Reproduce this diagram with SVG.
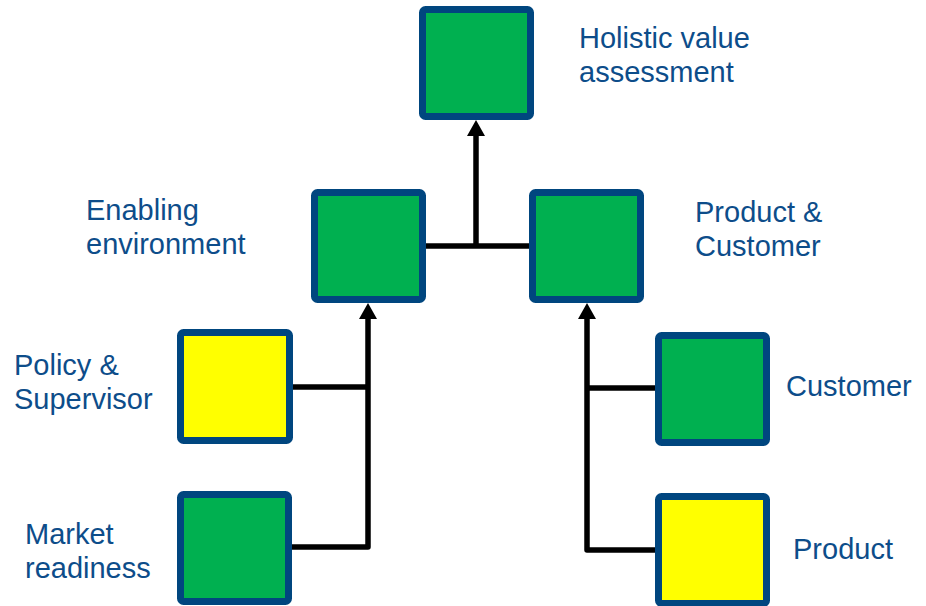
<svg xmlns="http://www.w3.org/2000/svg" width="926" height="606" viewBox="0 0 926 606">
  <defs>
    <style>
      .box { stroke: #00467F; stroke-width: 7; }
      .green { fill: #00B050; }
      .yellow { fill: #FFFF00; }
      .lbl { font-family: "Liberation Sans", Arial, sans-serif; font-size: 29px; fill: #0D4D8A; }
      .wire { fill: none; stroke: #000000; stroke-width: 5.5; stroke-linejoin: round; }
    </style>
    <marker id="arrow" viewBox="0 0 16 18" refX="0" refY="9" markerWidth="16" markerHeight="18" markerUnits="userSpaceOnUse" orient="auto">
      <path d="M0,0 L16,9 L0,18 Z" fill="#000000"/>
    </marker>
  </defs>
  <rect width="926" height="606" fill="#FFFFFF"/>

  <!-- connectors -->
  <g id="connectors">
    <path class="wire" d="M426,246 L529,246"/>
    <path class="wire" d="M476,246 L476,136" marker-end="url(#arrow)"/>
    <path class="wire" d="M292,547 L368,547 L368,319" marker-end="url(#arrow)"/>
    <path class="wire" d="M293,387 L368,387"/>
    <path class="wire" d="M655,550 L587,550 L587,319" marker-end="url(#arrow)"/>
    <path class="wire" d="M655,388 L587,388"/>
  </g>

  <!-- nodes -->
  <g id="holistic">
    <rect class="box green" x="422.5" y="9.5" width="108" height="107" rx="3"/>
    <text class="lbl" x="579" y="48">Holistic value</text>
    <text class="lbl" x="579" y="82">assessment</text>
  </g>
  <g id="enabling">
    <rect class="box green" x="314.5" y="192.5" width="108" height="107" rx="3"/>
    <text class="lbl" x="86" y="220">Enabling</text>
    <text class="lbl" x="86" y="254">environment</text>
  </g>
  <g id="product-customer">
    <rect class="box green" x="532.5" y="192.5" width="108" height="107" rx="3"/>
    <text class="lbl" x="695" y="222">Product &amp;</text>
    <text class="lbl" x="695" y="256">Customer</text>
  </g>
  <g id="policy">
    <rect class="box yellow" x="180.5" y="332.5" width="109" height="108" rx="3"/>
    <text class="lbl" x="14" y="375">Policy &amp;</text>
    <text class="lbl" x="14" y="409">Supervisor</text>
  </g>
  <g id="market">
    <rect class="box green" x="180.5" y="494.5" width="108" height="107" rx="3"/>
    <text class="lbl" x="25" y="544">Market</text>
    <text class="lbl" x="25" y="578">readiness</text>
  </g>
  <g id="customer">
    <rect class="box green" x="658.5" y="335.5" width="108" height="107" rx="3"/>
    <text class="lbl" x="786" y="396">Customer</text>
  </g>
  <g id="product">
    <rect class="box yellow" x="658.5" y="496.5" width="108" height="107" rx="3"/>
    <text class="lbl" x="793" y="559">Product</text>
  </g>
</svg>
